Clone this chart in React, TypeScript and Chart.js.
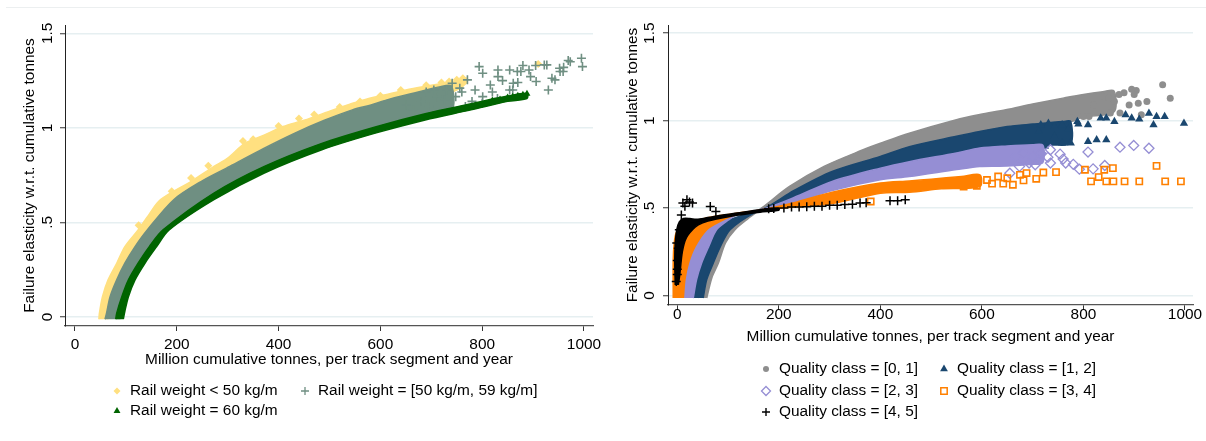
import React, { useEffect, useRef } from 'react';
import { Chart, registerables } from 'chart.js';

Chart.register(...registerables);

type P = [number, number];

// ---------- shared axis values ----------
const xTicks = [0, 200, 400, 600, 800, 1000];
const yTicks = [0, 0.5, 1, 1.5];
const yTickLabels = ['0', '.5', '1', '1.5'];
const xTitle = 'Million cumulative tonnes, per track segment and year';
const yTitle = 'Failure elasticity w.r.t. cumulative tonnes';

// ---------- left panel: rail weight ----------
const railLabels = ['Rail weight < 50 kg/m', 'Rail weight = [50 kg/m, 59 kg/m]', 'Rail weight = 60 kg/m'];

// dense clouds, read as outline of the cloud: upper/left edge, then lower/right edge back
const lightTop: P[] = [[47, -0.012], [48, 0.02], [54, 0.107], [65, 0.196], [82, 0.284], [98, 0.372], [124, 0.46], [145, 0.54], [168, 0.62], [230, 0.72], [273, 0.796], [300, 0.84], [334, 0.919], [370, 0.96], [409, 1.007], [450, 1.04], [507, 1.095], [540, 1.125], [567, 1.148], [610, 1.175], [650, 1.2], [700, 1.225], [741, 1.245], [770, 1.262]];
const lightBottom: P[] = [[770, 1.24], [750, 1.2], [700, 1.16], [600, 1.08], [500, 1.0], [400, 0.88], [300, 0.74], [200, 0.56], [150, 0.44], [120, 0.33], [100, 0.24], [85, 0.15], [72, 0.06], [64, -0.012]];
const midTop: P[] = [[59, -0.012], [62, 0.02], [69, 0.107], [82, 0.196], [98, 0.284], [118, 0.372], [142, 0.46], [194, 0.62], [250, 0.72], [304, 0.796], [370, 0.89], [432, 0.972], [490, 1.04], [545, 1.095], [580, 1.12], [613, 1.148], [660, 1.18], [718, 1.218], [740, 1.22]];
const midBottom: P[] = [[740, 1.09], [688, 1.06], [590, 0.99], [485, 0.9], [371, 0.778], [273, 0.64], [180, 0.46], [153, 0.372], [131, 0.284], [112, 0.196], [98, 0.107], [90, 0.02], [88, -0.012]];
const heavyTop: P[] = [[80, -0.012], [82, 0.02], [92, 0.107], [105, 0.196], [124, 0.284], [146, 0.372], [173, 0.46], [273, 0.655], [371, 0.795], [485, 0.918], [590, 1.005], [688, 1.075], [778, 1.127], [850, 1.168], [888, 1.182]];
const heavyBottom: P[] = [[888, 1.155], [850, 1.14], [778, 1.095], [688, 1.042], [590, 0.972], [485, 0.884], [371, 0.76], [273, 0.62], [185, 0.46], [160.5, 0.372], [137.5, 0.284], [118, 0.196], [105, 0.107], [98, 0.03], [95, -0.012]];

// sparse markers
const lightPts: P[] = [[125, 0.485], [190, 0.665], [228, 0.735], [262, 0.8], [330, 0.93], [350, 0.94], [400, 1.01], [440, 1.05], [470, 1.07], [520, 1.11], [560, 1.14], [600, 1.17], [640, 1.2], [690, 1.225], [720, 1.24], [735, 1.245], [750, 1.255], [762, 1.262], [910, 1.338]];
const midPts: P[] = [[995, 1.368], [973, 1.35], [997, 1.324], [959, 1.298], [969, 1.356], [927, 1.333], [953, 1.298], [943, 1.254], [930, 1.2], [892, 1.306], [906, 1.245], [922, 1.333], [876, 1.298], [861, 1.236], [854, 1.2], [831, 1.271], [816, 1.227], [801, 1.289], [786, 1.2], [771, 1.254], [756, 1.21], [748, 1.165], [726, 1.148], [711, 1.165], [695, 1.113], [680, 1.139], [665, 1.095], [650, 1.121], [767, 1.113], [741, 1.236], [801, 1.165], [794, 1.324], [831, 1.306], [854, 1.306], [869, 1.298], [895, 1.271], [937, 1.262], [952, 1.315], [880, 1.33], [840, 1.25], [820, 1.19], [780, 1.14], [760, 1.19], [730, 1.2], [705, 1.2], [690, 1.19], [870, 1.24], [905, 1.33], [960, 1.32], [800, 1.13], [830, 1.155], [860, 1.2]];
const heavyPts: P[] = [[820, 1.145], [835, 1.15], [850, 1.16], [860, 1.165], [870, 1.17], [880, 1.175], [888, 1.18]];

// ---------- right panel: quality class ----------
const qualityLabels = ['Quality class = [0, 1]', 'Quality class = [1, 2]', 'Quality class = [2, 3]', 'Quality class = [3, 4]', 'Quality class = [4, 5]'];

const q01Top: P[] = [[40, -0.015], [46, 0.08], [55, 0.18], [68, 0.26], [90, 0.34], [120, 0.42], [150, 0.47], [167.6, 0.503], [221, 0.623], [289, 0.738], [366, 0.833], [400, 0.87], [457, 0.928], [548, 1.004], [596, 1.035], [647, 1.062], [700, 1.095], [762, 1.13], [800, 1.15], [838, 1.165], [860, 1.17]];
const q01Bottom: P[] = [[860, 1.05], [800, 1.02], [760, 0.98], [700, 0.96], [650, 0.93], [596, 0.9], [550, 0.87], [457, 0.81], [400, 0.76], [305, 0.68], [230, 0.58], [175, 0.5], [163, 0.49], [140, 0.44], [113.7, 0.376], [95, 0.3], [81, 0.185], [68, 0.1], [58, -0.015]];
const q12Top: P[] = [[26, -0.015], [30, 0.1], [38, 0.2], [55, 0.3], [80, 0.4], [130, 0.46], [170, 0.495], [230, 0.6], [305, 0.709], [400, 0.795], [457, 0.85], [550, 0.91], [596, 0.938], [650, 0.966], [700, 0.98], [760, 0.995], [775, 0.995]];
const q12Bottom: P[] = [[775, 0.87], [740, 0.86], [700, 0.85], [650, 0.83], [596, 0.82], [550, 0.8], [457, 0.75], [400, 0.7], [305, 0.62], [230, 0.53], [175, 0.49], [150, 0.47], [104, 0.376], [85, 0.28], [71, 0.185], [58, 0.09], [51, -0.015]];
const q23Top: P[] = [[6, -0.015], [10, 0.1], [15, 0.2], [25, 0.3], [45, 0.376], [75, 0.43], [120, 0.468], [170, 0.495], [230, 0.56], [305, 0.652], [400, 0.728], [457, 0.765], [550, 0.815], [596, 0.843], [650, 0.855], [700, 0.862], [720, 0.86]];
const q23Bottom: P[] = [[720, 0.76], [700, 0.75], [650, 0.74], [596, 0.738], [550, 0.72], [457, 0.68], [400, 0.661], [305, 0.6], [230, 0.53], [175, 0.49], [123.5, 0.471], [100, 0.43], [77.6, 0.376], [62, 0.28], [48, 0.185], [38, 0.09], [31.5, -0.015]];
const q34Top: P[] = [[-8, -0.015], [-8, 0.2], [-6, 0.3], [-2, 0.36], [10, 0.4], [40, 0.43], [80, 0.455], [130, 0.475], [175, 0.495], [230, 0.53], [305, 0.59], [400, 0.643], [457, 0.655], [500, 0.665], [560, 0.68], [596, 0.69]];
const q34Bottom: P[] = [[596, 0.623], [520, 0.61], [457, 0.59], [400, 0.585], [305, 0.525], [230, 0.505], [175, 0.49], [123.5, 0.471], [84, 0.423], [58, 0.376], [35, 0.28], [22, 0.185], [15, 0.09], [12, -0.015]];
const q45Top: P[] = [[-4, 0.06], [-5, 0.2], [-4, 0.3], [-1, 0.376], [4, 0.42], [12, 0.44], [25, 0.44], [38, 0.435], [60, 0.445], [90, 0.46], [117, 0.471], [163, 0.49], [200, 0.5]];
const q45Bottom: P[] = [[200, 0.487], [163, 0.476], [117, 0.458], [75, 0.435], [50, 0.415], [35, 0.39], [18, 0.33], [10, 0.25], [5, 0.12], [2, 0.06]];

const q01Pts: P[] = [[956, 1.205], [971, 1.128], [925, 1.109], [908, 1.1], [904, 1.172], [895, 1.18], [890, 1.09], [872, 1.043], [853, 1.043], [861, 1.109], [838, 1.138], [811, 1.023], [800, 1.023], [777, 1.014], [880, 1.16], [870, 1.15], [850, 1.13], [900, 1.15], [820, 1.09], [914, 1.033]];
const q12Pts: P[] = [[998, 0.985], [960, 1.023], [944, 1.023], [929, 1.042], [938, 0.976], [910, 1.008], [895, 1.014], [883, 1.033], [861, 0.995], [845, 1.014], [834, 1.014], [845, 0.89], [826, 0.89], [809, 0.88], [809, 0.976], [788, 0.995], [775, 0.871], [758, 0.871], [758, 0.976], [743, 0.966], [731, 0.985], [716, 0.976], [724, 0.852], [743, 0.909], [712, 0.938], [770, 0.95], [790, 0.98]];
const q23Pts: P[] = [[929, 0.842], [899, 0.858], [872, 0.848], [842, 0.743], [819, 0.724], [809, 0.82], [792, 0.722], [765, 0.757], [754, 0.808], [735, 0.757], [735, 0.833], [716, 0.814], [705, 0.747], [693, 0.757], [674, 0.738], [655, 0.699], [701, 0.795], [682, 0.814], [666, 0.795], [730, 0.79], [760, 0.78], [780, 0.75]];
const q34Pts: P[] = [[944, 0.741], [992, 0.652], [961, 0.652], [910, 0.652], [881, 0.652], [859, 0.652], [845, 0.652], [830, 0.677], [815, 0.652], [858, 0.728], [841, 0.719], [803, 0.719], [746, 0.705], [721, 0.703], [707, 0.667], [682, 0.658], [661, 0.633], [642, 0.639], [620, 0.639], [590, 0.627], [564, 0.623], [688, 0.7], [675, 0.69], [632, 0.68], [381, 0.537], [610, 0.66], [650, 0.67]];
const q45Pts: P[] = [[180, 0.495], [190, 0.497], [210, 0.5], [225, 0.505], [240, 0.505], [255, 0.507], [270, 0.51], [285, 0.51], [300, 0.515], [315, 0.515], [330, 0.52], [345, 0.522], [360, 0.528], [372, 0.53], [419, 0.541], [434, 0.541], [449, 0.547], [11, 0.528], [19, 0.547], [24, 0.535], [30, 0.528], [15, 0.51], [65, 0.509], [76, 0.48], [4, 0.375], [0, 0.2], [0, 0.15], [-2, 0.08], [2, 0.27], [0, 0.12], [-1, 0.3], [8, 0.46]];

// ---------- helpers ----------
const FONT = '15.4px "Liberation Sans", Arial, sans-serif';
const xy = (a: P[]) => a.map(([x, y]) => ({ x, y }));
const polygon = (top: P[], bottom: P[]) => xy(top.concat(bottom));

function band(color: string, top: P[], bottom: P[], order: number) {
  return {
    label: '',
    data: polygon(top, bottom),
    showLine: true,
    fill: 'shape',
    backgroundColor: color,
    borderColor: color,
    borderWidth: 1.5,
    pointRadius: 0,
    tension: 0.3,
    order,
  };
}

function markers(pts: P[], style: string, color: string, r: number, order: number, hollow = false, lw = 1.5) {
  const isCross = style === 'cross';
  return {
    label: '',
    data: xy(pts),
    showLine: false,
    pointStyle: style,
    pointRadius: r,
    pointBackgroundColor: hollow || isCross ? 'rgba(0,0,0,0)' : color,
    pointBorderColor: color,
    pointBorderWidth: hollow || isCross ? lw : 0,
    order,
  };
}

type Mk = { shape: string; color: string; r: number; hollow?: boolean; lw?: number };

function drawMarker(ctx: CanvasRenderingContext2D, m: Mk, x: number, y: number) {
  const r = m.r;
  ctx.save();
  ctx.beginPath();
  if (m.shape === 'circle') ctx.arc(x, y, r, 0, Math.PI * 2);
  else if (m.shape === 'triangle') {
    ctx.moveTo(x, y - r);
    ctx.lineTo(x + r * 0.866, y + r * 0.5);
    ctx.lineTo(x - r * 0.866, y + r * 0.5);
    ctx.closePath();
  } else if (m.shape === 'rectRot') {
    ctx.moveTo(x, y - r);
    ctx.lineTo(x + r, y);
    ctx.lineTo(x, y + r);
    ctx.lineTo(x - r, y);
    ctx.closePath();
  } else if (m.shape === 'rect') ctx.rect(x - r, y - r, 2 * r, 2 * r);
  else if (m.shape === 'cross') {
    ctx.moveTo(x - r, y);
    ctx.lineTo(x + r, y);
    ctx.moveTo(x, y - r);
    ctx.lineTo(x, y + r);
  }
  if (m.shape === 'cross' || m.hollow) {
    ctx.strokeStyle = m.color;
    ctx.lineWidth = m.lw || 1.5;
    ctx.stroke();
  } else {
    ctx.fillStyle = m.color;
    ctx.fill();
  }
  ctx.restore();
}

type Layout = {
  xMin: number; xMax: number; yMin: number; yMax: number;
  padRight: number; xAxisH: number;
  xTickY: number; xTitleY: number; yTickX: number; yTitleX: number;
  legend: { label: string; mk: Mk; x: number; y: number }[];
};

function textPlugin(L: Layout) {
  return {
    id: 'axisTexts',
    afterDraw(chart: any) {
      const ctx: CanvasRenderingContext2D = chart.ctx;
      const xs = chart.scales.x;
      const ys = chart.scales.y;
      const ca = chart.chartArea;
      ctx.save();
      ctx.fillStyle = '#000';
      ctx.font = FONT;
      ctx.textAlign = 'center';
      ctx.textBaseline = 'middle';
      xTicks.forEach((v) => ctx.fillText(String(v), xs.getPixelForValue(v), L.xTickY));
      ctx.fillText(xTitle, (ca.left + ca.right) / 2, L.xTitleY);
      yTicks.forEach((v, i) => {
        ctx.save();
        ctx.translate(L.yTickX, ys.getPixelForValue(v));
        ctx.rotate(-Math.PI / 2);
        ctx.fillText(yTickLabels[i], 0, 0);
        ctx.restore();
      });
      ctx.save();
      ctx.translate(L.yTitleX, (ca.top + ca.bottom) / 2);
      ctx.rotate(-Math.PI / 2);
      ctx.fillText(yTitle, 0, 0);
      ctx.restore();
      L.legend.forEach((it) => {
        drawMarker(ctx, it.mk, it.x, it.y);
        ctx.fillStyle = '#000';
        ctx.textAlign = 'left';
        ctx.fillText(it.label, it.x + 13, it.y);
      });
      ctx.restore();
    },
  };
}

function makeConfig(L: Layout, datasets: any[]): any {
  return {
    type: 'line',
    data: { datasets },
    options: {
      animation: false,
      responsive: false,
      devicePixelRatio: 1,
      events: [],
      layout: { padding: { left: 0, top: 25, right: L.padRight, bottom: 0 } },
      plugins: { legend: { display: false }, tooltip: { enabled: false } },
      scales: {
        x: {
          type: 'linear',
          min: L.xMin,
          max: L.xMax,
          afterBuildTicks: (s: any) => { s.ticks = xTicks.map((v) => ({ value: v })); },
          afterFit: (s: any) => { s.height = L.xAxisH; },
          ticks: { display: false },
          grid: { drawOnChartArea: false, drawTicks: true, tickLength: 5, tickColor: '#333', tickWidth: 1 },
          border: { display: true, color: '#555', width: 1.3 },
        },
        y: {
          type: 'linear',
          min: L.yMin,
          max: L.yMax,
          afterBuildTicks: (s: any) => { s.ticks = yTicks.map((v) => ({ value: v })); },
          afterFit: (s: any) => { s.width = 65; },
          ticks: { display: false },
          grid: { color: '#e6eff1', lineWidth: 1.5, drawTicks: true, tickLength: 5, tickColor: '#333', tickWidth: 1 },
          border: { display: true, color: '#222', width: 1 },
        },
      },
    },
    plugins: [textPlugin(L)],
  };
}

// ---------- colours ----------
const cLight = '#ffe080';
const cMid = '#6f8f82';
const cHeavy = '#006400';
const cQ01 = '#8e8e8e';
const cQ12 = '#1a476f';
const cQ23 = '#958ed4';
const cQ34 = '#ff8000';
const cQ45 = '#000000';

function leftConfig() {
  const L: Layout = {
    xMin: -19.6, xMax: 1017.7, yMin: -0.048, yMax: 1.544,
    padRight: 10, xAxisH: 115,
    xTickY: 345, xTitleY: 360, yTickX: 48, yTitleX: 30,
    legend: [
      { label: railLabels[0], mk: { shape: 'rectRot', color: cLight, r: 3.5 }, x: 117, y: 391 },
      { label: railLabels[1], mk: { shape: 'cross', color: cMid, r: 4, lw: 1.3 }, x: 305, y: 391 },
      { label: railLabels[2], mk: { shape: 'triangle', color: cHeavy, r: 4 }, x: 117, y: 411 },
    ],
  };
  const ds = [
    band(cLight, lightTop, lightBottom, 60),
    markers(lightPts, 'rectRot', cLight, 4, 59),
    band(cMid, midTop, midBottom, 50),
    markers(midPts, 'cross', cMid, 4.5, 49, false, 1.6),
    band(cHeavy, heavyTop, heavyBottom, 40),
    markers(heavyPts, 'triangle', cHeavy, 4, 39),
  ];
  return makeConfig(L, ds);
}

function rightConfig() {
  const L: Layout = {
    xMin: -18.3, xMax: 1015.8, yMin: -0.055, yMax: 1.547,
    padRight: 13, xAxisH: 136,
    xTickY: 315, xTitleY: 337, yTickX: 47, yTitleX: 30,
    legend: [
      { label: qualityLabels[0], mk: { shape: 'circle', color: cQ01, r: 3 }, x: 163, y: 369 },
      { label: qualityLabels[1], mk: { shape: 'triangle', color: cQ12, r: 4.5 }, x: 341, y: 369 },
      { label: qualityLabels[2], mk: { shape: 'rectRot', color: cQ23, r: 4.5, hollow: true, lw: 1.3 }, x: 163, y: 391 },
      { label: qualityLabels[3], mk: { shape: 'rect', color: cQ34, r: 3.2, hollow: true, lw: 1.5 }, x: 341, y: 391 },
      { label: qualityLabels[4], mk: { shape: 'cross', color: cQ45, r: 4, lw: 1.4 }, x: 163, y: 412 },
    ],
  };
  const ds = [
    band(cQ01, q01Top, q01Bottom, 60),
    markers(q01Pts, 'circle', cQ01, 3.5, 59),
    band(cQ12, q12Top, q12Bottom, 50),
    markers(q12Pts, 'triangle', cQ12, 4.8, 49),
    band(cQ23, q23Top, q23Bottom, 40),
    markers(q23Pts, 'rectRot', cQ23, 5, 39, true, 1.3),
    band(cQ34, q34Top, q34Bottom, 30),
    markers(q34Pts, 'rect', cQ34, 4.4, 29, true, 1.6),
    band(cQ45, q45Top, q45Bottom, 20),
    markers(q45Pts, 'cross', cQ45, 4.5, 19, false, 1.5),
  ];
  return makeConfig(L, ds);
}

function Panel({ make, left }: { make: () => any; left: number }) {
  const ref = useRef<HTMLCanvasElement>(null);
  useEffect(() => {
    const c = new Chart(ref.current as HTMLCanvasElement, make());
    return () => c.destroy();
  }, []);
  return (
    <canvas
      ref={ref}
      width={603}
      height={441}
      style={{ position: 'absolute', left, top: 0, width: 603, height: 441 }}
    />
  );
}

export default function App() {
  return (
    <div style={{ position: 'absolute', left: 0, top: 0, width: 1206, height: 441, background: '#fff', overflow: 'hidden' }}>
      <div style={{ position: 'absolute', left: 6, top: 7, width: 1200, height: 1, background: '#eceff0' }} />
      <Panel make={leftConfig} left={0} />
      <Panel make={rightConfig} left={603} />
    </div>
  );
}
